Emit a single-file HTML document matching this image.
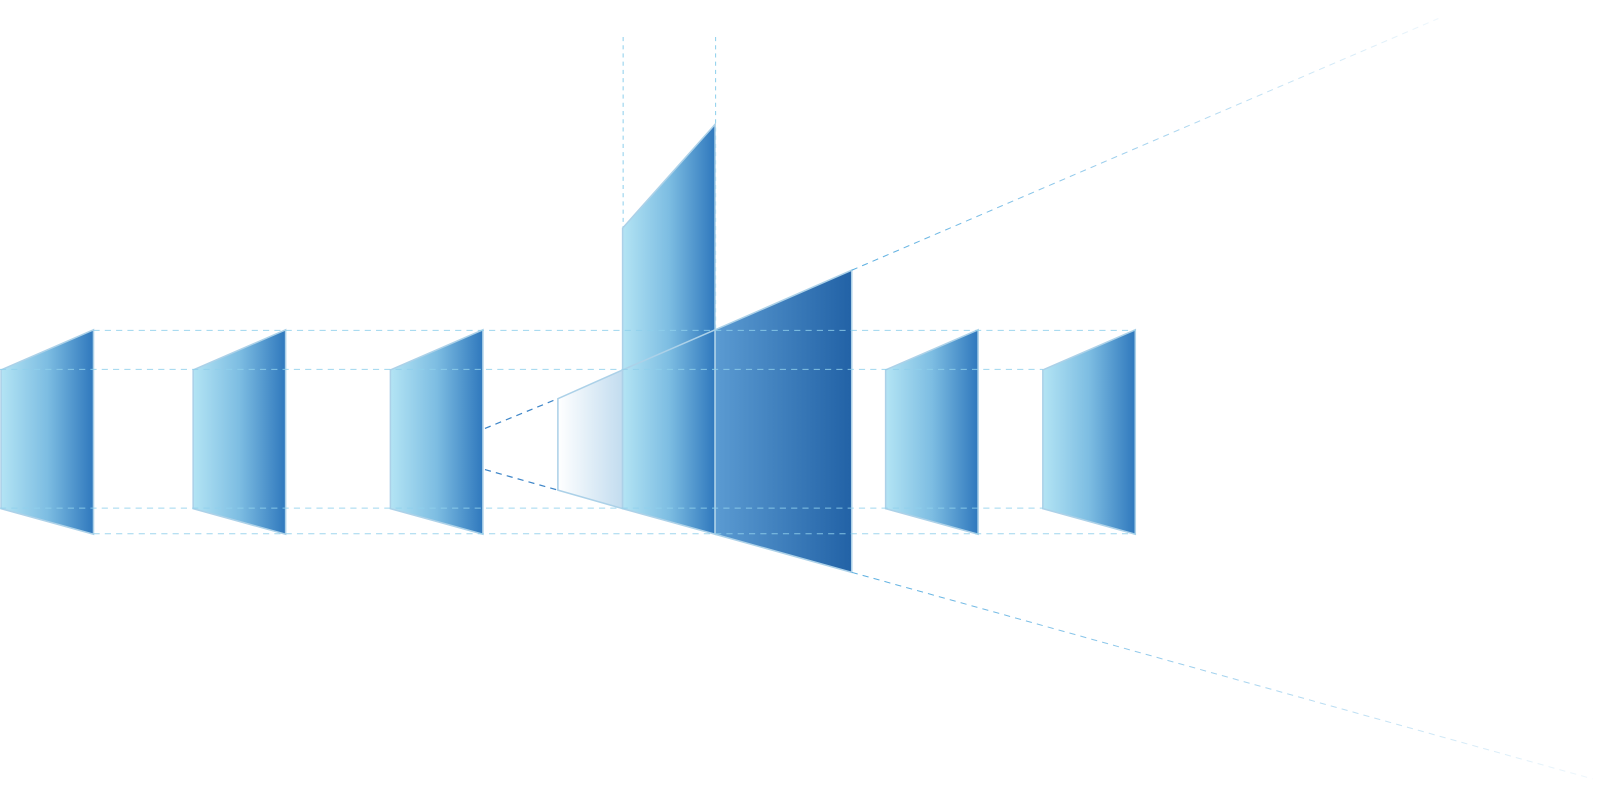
<!DOCTYPE html>
<html><head><meta charset="utf-8"><style>
html,body{margin:0;padding:0;background:#fff;}
svg{display:block;}
</style></head><body>
<svg width="1611" height="785" viewBox="0 0 1568 764" preserveAspectRatio="none" xmlns="http://www.w3.org/2000/svg">
<defs>
<linearGradient id="g" x1="0" x2="1" y1="0" y2="0">
<stop offset="0" stop-color="#b3e4f4"/><stop offset="0.5" stop-color="#7dbde2"/><stop offset="1" stop-color="#2f78bd"/>
</linearGradient>
<linearGradient id="gw" x1="0" x2="1" y1="0" y2="0">
<stop offset="0" stop-color="#ffffff"/><stop offset="1" stop-color="#c2dcef"/>
</linearGradient>
<linearGradient id="gb" x1="0" x2="1" y1="0" y2="0">
<stop offset="0" stop-color="#5b9bd2"/><stop offset="1" stop-color="#2262a6"/>
</linearGradient>
<linearGradient id="fu" gradientUnits="userSpaceOnUse" x1="829" y1="263" x2="1400" y2="18">
<stop offset="0" stop-color="#5aaee0"/><stop offset="1" stop-color="#5aaee0" stop-opacity="0.1"/>
</linearGradient>
<linearGradient id="fd" gradientUnits="userSpaceOnUse" x1="829" y1="557" x2="1550" y2="758">
<stop offset="0" stop-color="#5aaee0"/><stop offset="1" stop-color="#5aaee0" stop-opacity="0.1"/>
</linearGradient>
</defs>
<g stroke="#8fd0ec" stroke-width="1" stroke-dasharray="4,4" fill="none">
<line x1="606.5" y1="36" x2="606.5" y2="360"/>
<line x1="696.5" y1="36" x2="696.5" y2="321"/>
</g>
<g stroke="#acd1e8" stroke-width="1.5" fill="url(#g)">
<polygon points="1,360 91,321 91,520 1,495"/>
<polygon points="188,360 278,321 278,520 188,495"/>
<polygon points="380,360 470,321 470,520 380,495"/>
<polygon points="862,360 952,321 952,520 862,495"/>
<polygon points="1015,360 1105,321 1105,520 1015,495"/>
<polygon points="606,222 696,121 696,360 606,360"/>
</g>
<polygon points="543,388 606,360 606,495 543,477" fill="url(#gw)" stroke="#acd1e8" stroke-width="1.5"/>
<polygon points="606,360 696,321 696,520 606,495" fill="url(#g)" stroke="#acd1e8" stroke-width="1.5"/>
<polygon points="696,321 829,263 829,557 696,520" fill="url(#gb)" stroke="#acd1e8" stroke-width="1.5"/>
<g stroke="#8fd0ec" stroke-width="1" stroke-dasharray="6,5" fill="none" opacity="0.85">
<line x1="91" y1="321.5" x2="1105" y2="321.5"/>
<line x1="0" y1="359.5" x2="1015" y2="359.5"/>
<line x1="0" y1="494.5" x2="1015" y2="494.5"/>
<line x1="91" y1="519.5" x2="1105" y2="519.5"/>
</g>
<g stroke="#3f86c8" stroke-width="1.2" stroke-dasharray="6,5" fill="none">
<line x1="472" y1="417" x2="543" y2="388"/>
<line x1="472" y1="457" x2="543" y2="477"/>
</g>
<line x1="829" y1="263" x2="1400" y2="18" stroke="url(#fu)" stroke-width="1" stroke-dasharray="6,5"/>
<line x1="829" y1="557" x2="1550" y2="758" stroke="url(#fd)" stroke-width="1" stroke-dasharray="6,5"/>
</svg>
</body></html>
